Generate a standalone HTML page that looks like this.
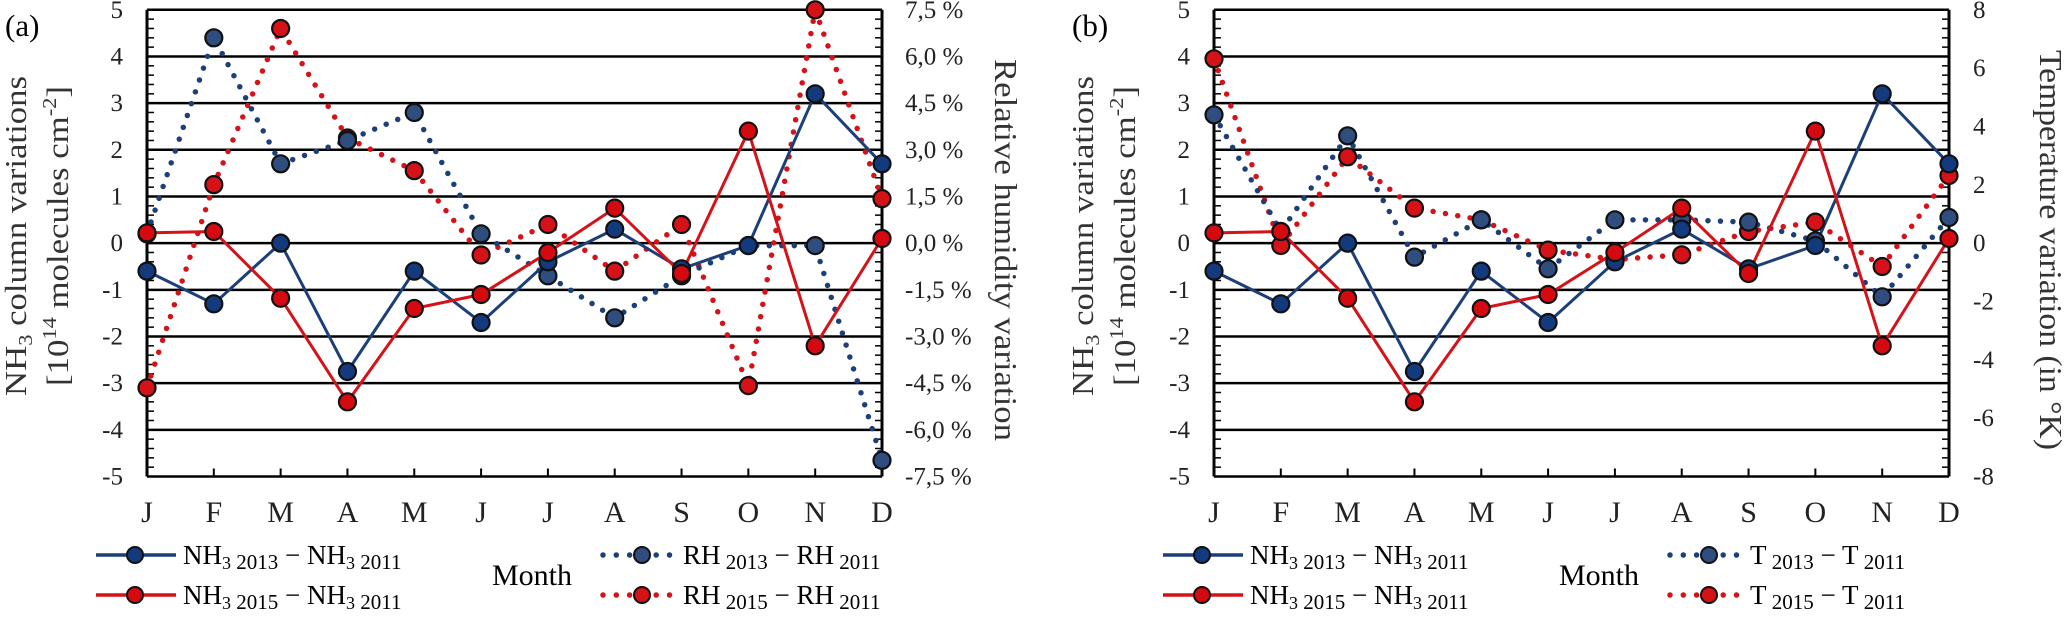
<!DOCTYPE html>
<html><head><meta charset="utf-8"><style>
html,body{margin:0;padding:0;background:#fff;}
svg, svg text{font-family:"Liberation Serif","Times New Roman",serif;}
</style></head><body>
<svg id="chart" width="2067" height="614" viewBox="0 0 2067 614" xmlns="http://www.w3.org/2000/svg" font-family="Liberation Serif, serif"></svg>
<script>
const months = ["J","F","M","A","M","J","J","A","S","O","N","D"];
const leftTicks = [5,4,3,2,1,0,-1,-2,-3,-4,-5];
const rhTickLabels = ["7,5 %","6,0 %","4,5 %","3,0 %","1,5 %","0,0 %","-1,5 %","-3,0 %","-4,5 %","-6,0 %","-7,5 %"];
const tTickLabels = ["8","6","4","2","0","-2","-4","-6","-8"];
const nh3_2013 = [-0.6,-1.3,0.0,-2.75,-0.6,-1.7,-0.4,0.3,-0.55,-0.05,3.2,1.7];
const nh3_2015 = [0.22,0.25,-1.18,-3.4,-1.4,-1.1,-0.2,0.75,-0.65,2.4,-2.2,0.1];
const rh_2013 = [0.3,6.6,2.55,3.3,4.2,0.3,-1.05,-2.4,-1.05,-0.08,-0.08,-6.98];
const rh_2015 = [-4.65,1.88,6.9,3.38,2.33,-0.38,0.6,-0.9,0.6,-4.58,7.5,1.43];
const t_2013 = [4.4,0.4,3.68,-0.48,0.8,-0.88,0.8,0.8,0.72,0.08,-1.84,0.88];
const t_2015 = [6.32,-0.08,2.96,1.2,0.8,-0.24,-0.56,-0.4,0.4,0.72,-0.8,2.32];

const NS="http://www.w3.org/2000/svg";
const svg=document.getElementById('chart');
const BLUE="#1c3f7a", BLUE2="#2f4d7e", RED="#d41218";
const FF="Liberation Serif, serif";
function mk(tag,attrs,parent){const e=document.createElementNS(NS,tag);for(const k in attrs)e.setAttribute(k,attrs[k]);if(tag==='text')e.setAttribute('font-family',FF);(parent||svg).appendChild(e);return e;}

function panel(off, label, rightLabels, rightMax, rightTitle, d13, d15, legA){
  const L=147+off, R=882+off, T=9.8, B=476.5;
  const X=i=>L+(R-L)*i/11;
  const Y=v=>T+(B-T)*(5-v)/10;
  const YR=v=>Y(v*5/rightMax);
  const g=mk('g',{});
  
  
  leftTicks.forEach(v=>{
    const ln=mk('line',{x1:L,x2:R,y1:Y(v),y2:Y(v),stroke:'#000','stroke-width':2.5},g);
    
    
    const t=mk('text',{x:L-24,y:Y(v)+8,'text-anchor':'end','font-size':25,fill:'#222'},g);
    t.textContent=v;
    
    
  });
  mk('line',{x1:L,x2:L,y1:T,y2:B,stroke:'#000','stroke-width':3},g);
  mk('line',{x1:R,x2:R,y1:T,y2:B,stroke:'#000','stroke-width':3},g);
  for(let k=0;k<=50;k++){const y=T+(B-T)*k/50;
    mk('line',{x1:L,x2:L+7,y1:y,y2:y,stroke:'#000','stroke-width':1.5},g);
    mk('line',{x1:R-7,x2:R,y1:y,y2:y,stroke:'#000','stroke-width':1.5},g);}
  months.forEach((m,i)=>{
    mk('line',{x1:X(i),x2:X(i),y1:B,y2:B-8,stroke:'#000','stroke-width':2},g);
    const t=mk('text',{x:X(i),y:522,'text-anchor':'middle','font-size':30,fill:'#222'},g);
    t.textContent=m;
    
    
  });
  const n=rightLabels.length;
  rightLabels.forEach((s,i)=>{
    const v=rightMax-2*rightMax*i/(n-1);
    const t=mk('text',{x:R+(rightMax>7.6?24:23),y:YR(v)+8,'font-size':25,fill:'#222'},g);
    t.textContent=s;
    
    
  });
  const pl=mk('text',{x:off+5,y:36,'font-size':31},g); pl.textContent=label;
   
  const yt=mk('text',{transform:`translate(${off+26},236) rotate(-90)`,'text-anchor':'middle','font-size':31,fill:'#333',textLength:320,lengthAdjust:'spacingAndGlyphs'},g);
  yt.innerHTML='NH<tspan font-size="20" dy="6">3</tspan><tspan dy="-6"> column variations</tspan>';
   
  const yt2=mk('text',{transform:`translate(${off+68},236) rotate(-90)`,'text-anchor':'middle','font-size':31,fill:'#333',textLength:300,lengthAdjust:'spacingAndGlyphs'},g);
  yt2.innerHTML='[10<tspan font-size="20" dy="-12">14</tspan><tspan dy="12"> molecules cm</tspan><tspan font-size="20" dy="-12">-2</tspan><tspan dy="12">]</tspan>';
   
  const rt=mk('text',{transform:`translate(${rightMax>7.6?2040:995},250) rotate(90)`,'text-anchor':'middle','font-size':32,fill:'#333',textLength:(rightMax>7.6?400:382),lengthAdjust:'spacingAndGlyphs'},g);
  rt.textContent=rightTitle;
   
  function line(vals,yf,color,dotted,name){
    const p=mk('polyline',{points:vals.map((v,i)=>X(i)+','+yf(v)).join(' '),fill:'none',stroke:color,
      'stroke-width':dotted?5.5:3,'stroke-linecap':'round','stroke-linejoin':'round','stroke-dasharray':dotted?'0 12.5':'none'},g);
     
  }
  function marks(vals,yf,fill,name){
    vals.forEach((v,i)=>{
      const c=mk('circle',{cx:X(i),cy:yf(v),r:8.5,fill:fill,stroke:'#111','stroke-width':2.2},g);
       
    });
  }
  line(d15,YR,RED,true,'dotted-2015');
  line(d13,YR,BLUE,true,'dotted-2013');
  line(nh3_2013,Y,BLUE,false,'nh3-2013');
  line(nh3_2015,Y,RED,false,'nh3-2015');
  marks(d15,YR,RED,'dotted-2015');
  marks(d13,YR,BLUE2,'dotted-2013');
  marks(nh3_2013,Y,'#123a7c','nh3-2013');
  marks(nh3_2015,Y,'#d40a10','nh3-2015');
  const lg=mk('g',{},g);
   
  [[555,BLUE,'#123a7c','2013'],[595,RED,'#d40a10','2015']].forEach(([y,c,f,yr])=>{
    mk('line',{x1:off+96,x2:off+176,y1:y,y2:y,stroke:c,'stroke-width':3.5},lg);
    const m=mk('circle',{cx:off+135,cy:y,r:8,fill:f,stroke:'#111','stroke-width':2},lg);
     
    const t=mk('text',{x:off+183,y:y+9,'font-size':27},lg);
    t.innerHTML=`NH<tspan font-size="18" dy="5">3</tspan><tspan font-size="21"> ${yr}</tspan><tspan dy="-5"> − NH</tspan><tspan font-size="18" dy="5">3</tspan><tspan font-size="21"> 2011</tspan>`;
     
    mk('line',{x1:off+603,x2:off+673,y1:y,y2:y,stroke:c,'stroke-width':5.5,'stroke-linecap':'round','stroke-dasharray':'0 13.3'},lg);
    const m2=mk('circle',{cx:off+642,cy:y,r:8,fill:(yr==='2013'?BLUE2:RED),stroke:'#111','stroke-width':2},lg);
     
    const t2=mk('text',{x:off+683,y:y+9,'font-size':27},lg);
    t2.innerHTML=`${legA}<tspan font-size="21" dy="5"> ${yr}</tspan><tspan dy="-5"> − ${legA}</tspan><tspan font-size="21" dy="5"> 2011</tspan>`;
     
  });
  const mt=mk('text',{x:off+532,y:585,'text-anchor':'middle','font-size':30},lg);
  mt.textContent='Month';
   
}
panel(0,'(a)',rhTickLabels,7.5,'Relative humidity variation',rh_2013,rh_2015,'RH');
panel(1067,'(b)',tTickLabels,8,'Temperature variation (in °K)',t_2013,t_2015,'T');
</script>
</body></html>
